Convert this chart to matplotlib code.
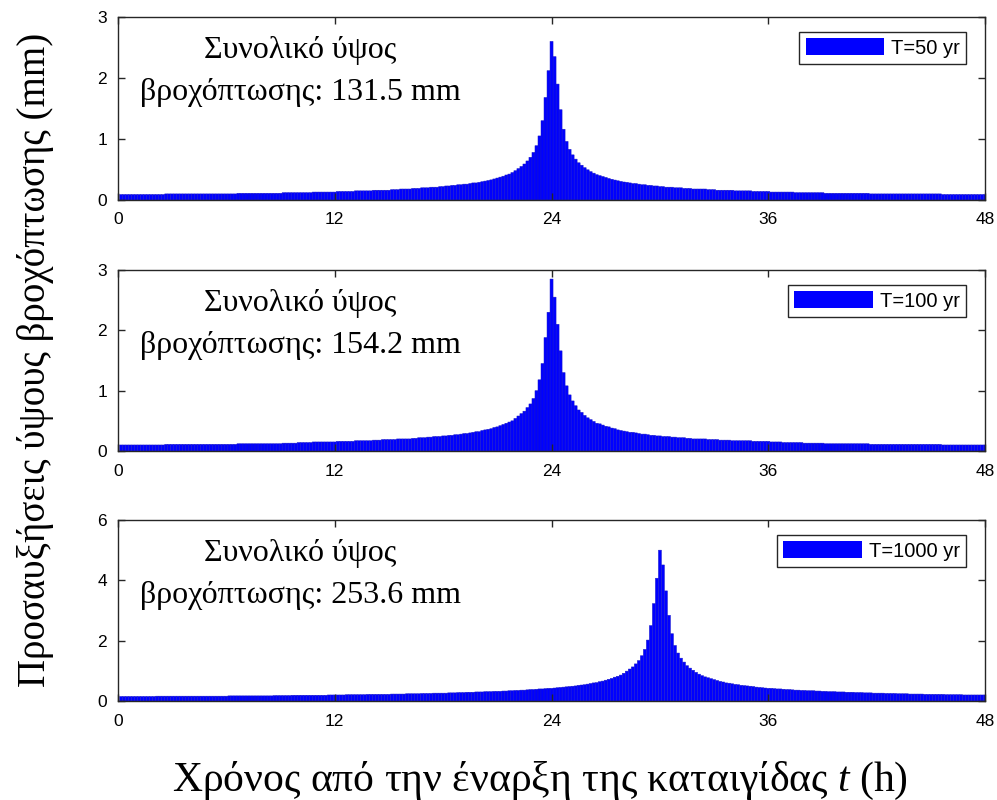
import numpy as np
import matplotlib
matplotlib.use('Agg')
import matplotlib.pyplot as plt

plt.rcParams['font.family'] = ['Liberation Sans', 'DejaVu Sans']
plt.rcParams['mathtext.fontset'] = 'custom'
plt.rcParams['mathtext.rm'] = 'Liberation Serif'
plt.rcParams['mathtext.it'] = 'Liberation Serif:italic'

# 10-min rainfall increments (mm), one row per hour
rain_T50 = [
    0.09, 0.09, 0.09, 0.09, 0.09, 0.09,
    0.09, 0.09, 0.09, 0.09, 0.09, 0.09,
    0.09, 0.09, 0.09, 0.10, 0.10, 0.10,
    0.10, 0.10, 0.10, 0.10, 0.10, 0.10,
    0.10, 0.10, 0.10, 0.10, 0.10, 0.10,
    0.10, 0.10, 0.10, 0.10, 0.10, 0.10,
    0.10, 0.10, 0.10, 0.11, 0.11, 0.11,
    0.11, 0.11, 0.11, 0.11, 0.11, 0.11,
    0.11, 0.11, 0.11, 0.11, 0.11, 0.11,
    0.12, 0.12, 0.12, 0.12, 0.12, 0.12,
    0.12, 0.12, 0.12, 0.12, 0.13, 0.13,
    0.13, 0.13, 0.13, 0.13, 0.13, 0.13,
    0.14, 0.14, 0.14, 0.14, 0.14, 0.14,
    0.15, 0.15, 0.15, 0.15, 0.15, 0.15,
    0.16, 0.16, 0.16, 0.16, 0.16, 0.16,
    0.17, 0.17, 0.17, 0.18, 0.18, 0.18,
    0.18, 0.19, 0.19, 0.19, 0.20, 0.20,
    0.20, 0.21, 0.21, 0.21, 0.22, 0.22,
    0.23, 0.23, 0.24, 0.24, 0.25, 0.25,
    0.26, 0.26, 0.27, 0.28, 0.28, 0.29,
    0.30, 0.31, 0.32, 0.33, 0.345, 0.36,
    0.375, 0.39, 0.41, 0.425, 0.45, 0.48,
    0.515, 0.55, 0.59, 0.64, 0.70, 0.78,
    0.89, 1.05, 1.30, 1.68, 2.12, 2.60,
    2.35, 1.90, 1.48, 1.16, 0.96, 0.83,
    0.74, 0.67, 0.61, 0.57, 0.53, 0.495,
    0.465, 0.44, 0.415, 0.40, 0.385, 0.37,
    0.353, 0.34, 0.327, 0.315, 0.305, 0.295,
    0.29, 0.28, 0.27, 0.27, 0.26, 0.25,
    0.25, 0.24, 0.24, 0.23, 0.23, 0.22,
    0.22, 0.21, 0.21, 0.21, 0.20, 0.20,
    0.20, 0.19, 0.19, 0.19, 0.18, 0.18,
    0.18, 0.18, 0.18, 0.17, 0.17, 0.17,
    0.16, 0.16, 0.16, 0.16, 0.16, 0.16,
    0.15, 0.15, 0.15, 0.15, 0.15, 0.15,
    0.14, 0.14, 0.14, 0.14, 0.14, 0.14,
    0.13, 0.13, 0.13, 0.13, 0.13, 0.13,
    0.13, 0.13, 0.12, 0.12, 0.12, 0.12,
    0.12, 0.12, 0.12, 0.12, 0.12, 0.12,
    0.11, 0.11, 0.11, 0.11, 0.11, 0.11,
    0.11, 0.11, 0.11, 0.11, 0.11, 0.11,
    0.11, 0.11, 0.11, 0.10, 0.10, 0.10,
    0.10, 0.10, 0.10, 0.10, 0.10, 0.10,
    0.10, 0.10, 0.10, 0.10, 0.10, 0.10,
    0.10, 0.10, 0.10, 0.10, 0.10, 0.10,
    0.10, 0.10, 0.10, 0.09, 0.09, 0.09,
    0.09, 0.09, 0.09, 0.09, 0.09, 0.09,
    0.09, 0.09, 0.09, 0.09, 0.09, 0.09,
]

rain_T100 = [
    0.10, 0.10, 0.10, 0.10, 0.10, 0.10,
    0.10, 0.10, 0.10, 0.10, 0.10, 0.10,
    0.10, 0.10, 0.10, 0.11, 0.11, 0.11,
    0.11, 0.11, 0.11, 0.11, 0.11, 0.11,
    0.11, 0.11, 0.11, 0.11, 0.11, 0.11,
    0.11, 0.11, 0.11, 0.11, 0.11, 0.11,
    0.11, 0.11, 0.11, 0.12, 0.12, 0.12,
    0.12, 0.12, 0.12, 0.12, 0.12, 0.12,
    0.12, 0.12, 0.12, 0.12, 0.12, 0.12,
    0.13, 0.13, 0.13, 0.13, 0.13, 0.14,
    0.14, 0.14, 0.14, 0.14, 0.15, 0.15,
    0.15, 0.15, 0.15, 0.15, 0.15, 0.15,
    0.16, 0.16, 0.16, 0.16, 0.16, 0.16,
    0.17, 0.17, 0.17, 0.17, 0.17, 0.17,
    0.18, 0.18, 0.18, 0.19, 0.19, 0.19,
    0.19, 0.19, 0.20, 0.20, 0.20, 0.20,
    0.20, 0.21, 0.21, 0.22, 0.22, 0.22,
    0.23, 0.23, 0.24, 0.24, 0.24, 0.25,
    0.25, 0.26, 0.26, 0.27, 0.27, 0.28,
    0.29, 0.29, 0.30, 0.31, 0.32, 0.32,
    0.34, 0.35, 0.36, 0.37, 0.39, 0.40,
    0.42, 0.44, 0.46, 0.48, 0.50, 0.54,
    0.58, 0.62, 0.66, 0.72, 0.78, 0.87,
    1.00, 1.18, 1.45, 1.88, 2.30, 2.85,
    2.55, 2.10, 1.66, 1.30, 1.08, 0.93,
    0.83, 0.75, 0.68, 0.64, 0.59, 0.55,
    0.52, 0.49, 0.46, 0.45, 0.43, 0.41,
    0.40, 0.38, 0.37, 0.35, 0.34, 0.33,
    0.32, 0.31, 0.31, 0.30, 0.29, 0.28,
    0.28, 0.27, 0.26, 0.26, 0.25, 0.25,
    0.24, 0.24, 0.24, 0.23, 0.23, 0.22,
    0.22, 0.22, 0.21, 0.21, 0.20, 0.20,
    0.20, 0.20, 0.20, 0.19, 0.19, 0.19,
    0.19, 0.18, 0.18, 0.18, 0.18, 0.17,
    0.17, 0.17, 0.17, 0.17, 0.17, 0.17,
    0.16, 0.16, 0.16, 0.16, 0.16, 0.16,
    0.15, 0.15, 0.15, 0.15, 0.14, 0.14,
    0.14, 0.14, 0.14, 0.14, 0.14, 0.13,
    0.13, 0.13, 0.13, 0.13, 0.13, 0.13,
    0.12, 0.12, 0.12, 0.12, 0.12, 0.12,
    0.12, 0.12, 0.12, 0.12, 0.12, 0.12,
    0.12, 0.12, 0.12, 0.11, 0.11, 0.11,
    0.11, 0.11, 0.11, 0.11, 0.11, 0.11,
    0.11, 0.11, 0.11, 0.11, 0.11, 0.11,
    0.11, 0.11, 0.11, 0.11, 0.11, 0.11,
    0.11, 0.11, 0.11, 0.10, 0.10, 0.10,
    0.10, 0.10, 0.10, 0.10, 0.10, 0.10,
    0.10, 0.10, 0.10, 0.10, 0.10, 0.10,
]

rain_T1000 = [
    0.15, 0.15, 0.15, 0.15, 0.15, 0.15,
    0.15, 0.15, 0.15, 0.15, 0.15, 0.15,
    0.16, 0.16, 0.16, 0.16, 0.16, 0.16,
    0.16, 0.16, 0.16, 0.16, 0.16, 0.16,
    0.16, 0.16, 0.16, 0.16, 0.16, 0.16,
    0.16, 0.16, 0.16, 0.16, 0.16, 0.16,
    0.17, 0.17, 0.17, 0.17, 0.17, 0.17,
    0.17, 0.17, 0.17, 0.17, 0.17, 0.17,
    0.17, 0.17, 0.17, 0.18, 0.18, 0.18,
    0.18, 0.18, 0.18, 0.19, 0.19, 0.19,
    0.19, 0.19, 0.19, 0.19, 0.19, 0.19,
    0.19, 0.19, 0.19, 0.20, 0.20, 0.20,
    0.20, 0.20, 0.20, 0.21, 0.21, 0.21,
    0.21, 0.21, 0.21, 0.21, 0.22, 0.22,
    0.22, 0.22, 0.22, 0.22, 0.22, 0.22,
    0.23, 0.23, 0.23, 0.23, 0.23, 0.24,
    0.24, 0.24, 0.24, 0.24, 0.25, 0.25,
    0.25, 0.25, 0.26, 0.26, 0.26, 0.26,
    0.26, 0.27, 0.27, 0.27, 0.28, 0.28,
    0.28, 0.29, 0.29, 0.29, 0.30, 0.30,
    0.30, 0.31, 0.31, 0.31, 0.32, 0.32,
    0.32, 0.33, 0.33, 0.34, 0.34, 0.35,
    0.35, 0.36, 0.36, 0.37, 0.38, 0.38,
    0.39, 0.40, 0.40, 0.41, 0.42, 0.42,
    0.43, 0.44, 0.45, 0.46, 0.47, 0.48,
    0.49, 0.50, 0.52, 0.53, 0.54, 0.56,
    0.58, 0.60, 0.61, 0.64, 0.66, 0.69,
    0.72, 0.75, 0.79, 0.82, 0.86, 0.92,
    0.99, 1.06, 1.13, 1.23, 1.34, 1.50,
    1.71, 2.02, 2.50, 3.23, 4.07, 5.00,
    4.51, 3.65, 2.84, 2.23, 1.84, 1.59,
    1.42, 1.29, 1.17, 1.09, 1.02, 0.95,
    0.89, 0.84, 0.80, 0.77, 0.74, 0.71,
    0.68, 0.65, 0.63, 0.60, 0.59, 0.57,
    0.55, 0.54, 0.52, 0.51, 0.50, 0.49,
    0.48, 0.46, 0.45, 0.44, 0.43, 0.42,
    0.42, 0.41, 0.40, 0.40, 0.39, 0.38,
    0.38, 0.37, 0.36, 0.36, 0.35, 0.35,
    0.34, 0.34, 0.34, 0.33, 0.33, 0.32,
    0.32, 0.31, 0.31, 0.31, 0.30, 0.30,
    0.30, 0.29, 0.29, 0.29, 0.28, 0.28,
    0.28, 0.27, 0.27, 0.27, 0.26, 0.26,
    0.26, 0.26, 0.25, 0.25, 0.25, 0.25,
    0.24, 0.24, 0.24, 0.24, 0.23, 0.23,
    0.23, 0.23, 0.23, 0.22, 0.22, 0.22,
    0.22, 0.22, 0.22, 0.22, 0.21, 0.21,
    0.21, 0.21, 0.21, 0.21, 0.20, 0.20,
    0.20, 0.20, 0.20, 0.20, 0.20, 0.20,
]

series = [rain_T50, rain_T100, rain_T1000]
labels = ['T=50 yr', 'T=100 yr', 'T=1000 yr']
totals = [131.5, 154.2, 253.6]
y_max = [3, 3, 6]
y_ticks = [[0, 1, 2, 3], [0, 1, 2, 3], [0, 2, 4, 6]]
x_ticks = [0, 12, 24, 36, 48]
dt = 1 / 6  # time step in hours (10 min)

axis_col = '#262626'
serif = ['Liberation Serif', 'DejaVu Serif']

fig = plt.figure(figsize=(9.97, 8), dpi=100)
rects = [
    [0.1184, 0.75, 0.8696, 0.2288],
    [0.1184, 0.43625, 0.8696, 0.22625],
    [0.1184, 0.12375, 0.8696, 0.22625],
]

for i in range(3):
    ax = fig.add_axes(rects[i])
    vals = np.array(series[i])
    t = np.arange(1, len(vals) + 1) * dt
    ax.bar(t, vals, width=dt, color='#0000ff', edgecolor='#1818c8',
           linewidth=0.35, snap=False, label=labels[i])
    ax.set_xlim(0, 48)
    ax.set_ylim(0, y_max[i])
    ax.set_xticks(x_ticks)
    ax.set_yticks(y_ticks[i])
    ax.tick_params(direction='in', top=True, right=True, length=5, width=1,
                   color=axis_col, labelsize=12.5, labelcolor='black')
    ax.tick_params(axis='x', pad=9)
    ax.tick_params(axis='y', pad=8)
    for s in ax.spines.values():
        s.set_color(axis_col)
        s.set_linewidth(1.0)

    # legend box placed just inside the top-right corner
    w_px = ax.get_position().width * 997
    h_px = ax.get_position().height * 800
    leg = ax.legend(loc='upper right', bbox_to_anchor=(1 - 19 / w_px, 1 - 15 / h_px),
                    borderaxespad=0, fontsize=14.5, handlelength=3.9, handleheight=0.95,
                    fancybox=False, edgecolor=axis_col, framealpha=1,
                    borderpad=0.3, handletextpad=0.35)
    leg.get_frame().set_linewidth(1.0)
    for p in leg.get_patches():
        p.set_edgecolor('none')

    ax.text(0.21, 0.70, f'Συνολικό ύψος\nβροχόπτωσης: {totals[i]} mm',
            transform=ax.transAxes, ha='center', va='center',
            family=serif, fontsize=23, linespacing=1.6)

fig.text(0.036, 0.55, 'Προσαυξήσεις ύψους βροχόπτωσης (mm)', rotation=90,
         ha='center', va='center', family=serif, fontsize=28)
fig.text(0.542, 0.024, 'Χρόνος από την έναρξη της καταιγίδας $t$ (h)',
         ha='center', va='center', family=serif, fontsize=30)

fig.savefig('out.png', dpi=100)
